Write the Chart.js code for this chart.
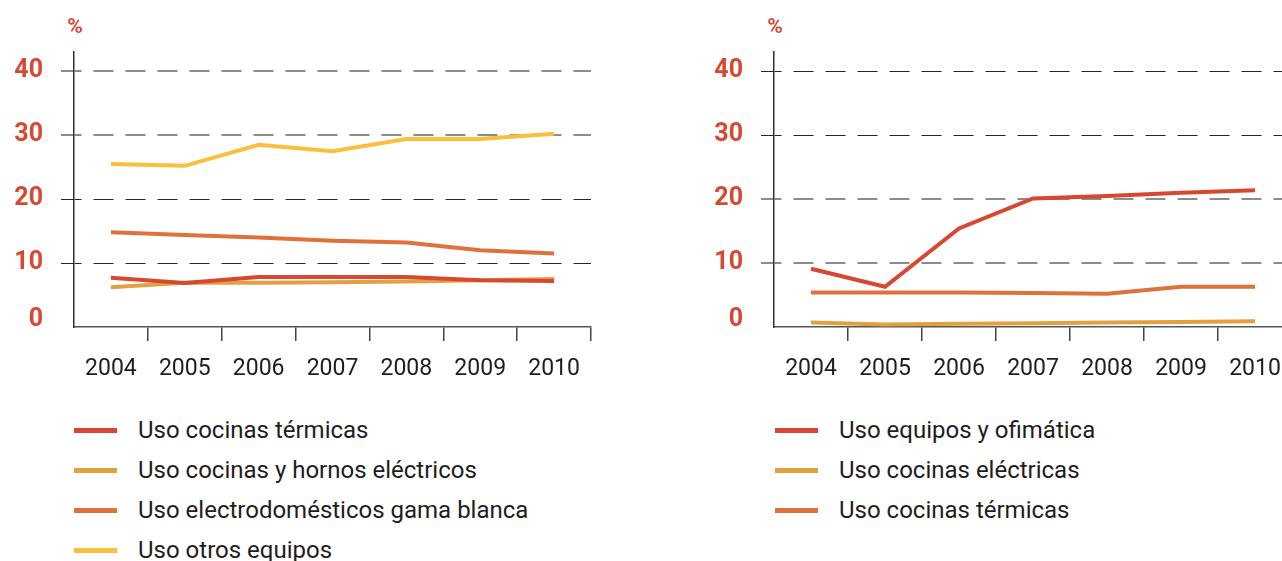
<!DOCTYPE html>
<html lang="es">
<head>
<meta charset="utf-8">
<script src="https://cdn.jsdelivr.net/npm/chart.js@4.4.1/dist/chart.umd.min.js"></script>
<style>
  html, body { margin: 0; padding: 0; background: #fff; }
  body { width: 1282px; height: 561px; overflow: hidden; position: relative; font-family: Roboto, "Noto Sans", sans-serif; }
  .chart { position: absolute; top: 0; height: 400px; }
  #left { left: 0; width: 640px; }
  #right { left: 700px; width: 600px; }
  .legend { position: absolute; top: 410px; }
  #legend-left { left: 74px; }
  #legend-right { left: 775px; }
  .legend .row { display: flex; align-items: center; height: 40px; font-size: 24px; color: #1f1d1e; white-space: nowrap; }
  .legend .swatch { width: 43px; height: 5px; margin-right: 21px; }
</style>
</head>
<body>
<div class="chart" id="left"><canvas id="chartLeft"></canvas></div>
<div class="chart" id="right"><canvas id="chartRight"></canvas></div>
<div class="legend" id="legend-left"></div>
<div class="legend" id="legend-right"></div>
<script>
  const years = ['2004', '2005', '2006', '2007', '2008', '2009', '2010'];
  const yTicks = [0, 10, 20, 30, 40];

  // hogar
  const cocinasTermicas = [7.7, 6.9, 7.8, 7.8, 7.8, 7.3, 7.2];
  const cocinasHornos = [6.2, 6.9, 6.9, 7.0, 7.1, 7.3, 7.5];
  const gamaBlanca = [14.8, 14.4, 14.0, 13.5, 13.2, 12.0, 11.5];
  const otrosEquipos = [25.5, 25.2, 28.5, 27.5, 29.4, 29.4, 30.2];

  // servicios
  const ofimatica = [9.1, 6.3, 15.4, 20.1, 20.5, 21.0, 21.4];
  const cocinasElectricas = [0.7, 0.4, 0.5, 0.6, 0.7, 0.8, 0.9];
  const cocinasTermicasServ = [5.4, 5.4, 5.4, 5.3, 5.2, 6.3, 6.3];

  const RED = '#d8472f';
  const GOLD = '#e3a03f';
  const ORANGE = '#e0713a';
  const YELLOW = '#fbbf3d';

  const DARK = '#262626';
  const GREY = '#8c8c8c';

  const percentLabel = {
    id: 'percentLabel',
    afterDraw(chart) {
      const { ctx, chartArea } = chart;
      ctx.save();
      ctx.font = 'bold 21px Roboto';
      ctx.fillStyle = RED;
      ctx.textAlign = 'center';
      ctx.textBaseline = 'middle';
      ctx.fillText('%', chartArea.left + 1, 28);
      ctx.restore();
    }
  };

  function makeChart(id, series, darkTop, padRight) {
    const gridColor = (c) => {
      const v = c.tick ? c.tick.value : 0;
      if (v === 0) return 'rgba(0,0,0,0)';
      return (v >= 30) === darkTop ? DARK : GREY;
    };
    const gridWidth = (c) => {
      const v = c.tick ? c.tick.value : 0;
      return (v >= 30) === darkTop ? 1 : 2;
    };

    return new Chart(document.getElementById(id), {
      type: 'line',
      data: {
        labels: years,
        datasets: series.map(s => ({
          label: s.label,
          data: s.data,
          borderColor: s.color,
          borderWidth: 4,
          tension: 0,
          pointRadius: 0,
          fill: false
        }))
      },
      options: {
        responsive: true,
        maintainAspectRatio: false,
        animation: false,
        layout: { padding: { top: 52, right: padRight, bottom: 0, left: 0 } },
        plugins: {
          legend: { display: false },
          tooltip: { enabled: false }
        },
        scales: {
          x: {
            type: 'category',
            offset: true,
            grid: {
              offset: true,
              drawOnChartArea: false,
              drawTicks: true,
              tickLength: 14,
              color: '#444',
              lineWidth: 1.5,
              // no tick under the y axis
              tickColor: (c) => c.index === 0 ? 'rgba(0,0,0,0)' : '#444'
            },
            border: { color: '#555', width: 1.5 },
            ticks: { color: '#1f1d1e', font: { family: 'Roboto', size: 23 }, padding: 14, maxRotation: 0, autoSkip: false },
            afterFit: (scale) => { scale.height = 73; }
          },
          y: {
            min: 0,
            max: 43,
            ticks: {
              stepSize: 10,
              includeBounds: false,
              color: RED,
              // the zero sits a little above the baseline
              callback: (v) => v === 0 ? ['0', ''] : String(v),
              font: (c) => ({
                family: 'Roboto',
                size: 25,
                weight: 'bold',
                lineHeight: c.tick && c.tick.value === 0 ? '15px' : 1.2
              }),
              padding: 18
            },
            afterBuildTicks: (scale) => {
              scale.ticks = scale.ticks.filter(t => yTicks.includes(t.value));
            },
            grid: { color: gridColor, lineWidth: gridWidth, tickLength: 13, drawTicks: true },
            border: { display: true, color: '#333', width: 1.5, dash: [20, 12], dashOffset: 13 },
            afterFit: (scale) => { scale.width = 74; }
          }
        }
      },
      plugins: [percentLabel]
    });
  }

  const hogar = [
    { label: 'Uso cocinas térmicas', data: cocinasTermicas, color: RED },
    { label: 'Uso cocinas y hornos eléctricos', data: cocinasHornos, color: GOLD },
    { label: 'Uso electrodomésticos gama blanca', data: gamaBlanca, color: ORANGE },
    { label: 'Uso otros equipos', data: otrosEquipos, color: YELLOW }
  ];

  const servicios = [
    { label: 'Uso equipos y ofimática', data: ofimatica, color: RED },
    { label: 'Uso cocinas eléctricas', data: cocinasElectricas, color: GOLD },
    { label: 'Uso cocinas térmicas', data: cocinasTermicasServ, color: ORANGE }
  ];

  makeChart('chartLeft', hogar, false, 49);
  makeChart('chartRight', servicios, true, 8);

  function buildLegend(el, series) {
    series.forEach(s => {
      const row = document.createElement('div');
      row.className = 'row';
      const sw = document.createElement('span');
      sw.className = 'swatch';
      sw.style.background = s.color;
      const txt = document.createElement('span');
      txt.textContent = s.label;
      row.appendChild(sw);
      row.appendChild(txt);
      el.appendChild(row);
    });
  }

  buildLegend(document.getElementById('legend-left'), hogar);
  buildLegend(document.getElementById('legend-right'), servicios);
</script>
</body>
</html>
